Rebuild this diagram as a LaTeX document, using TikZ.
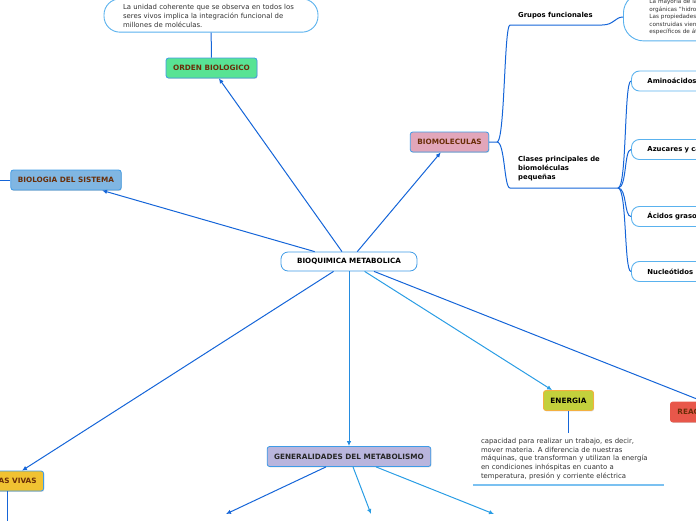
\documentclass[tikz,border=0pt]{standalone}
\usepackage{fontspec}
\setmainfont{DejaVu Sans}
\usetikzlibrary{arrows.meta, positioning, shadows}
\definecolor{lineDark}{HTML}{1565D8}
\definecolor{lineLight}{HTML}{2A9DE4}
\definecolor{boxBlue}{HTML}{3F9BE6}
\definecolor{leafBlue}{HTML}{5AB2EE}
\definecolor{txtBrown}{HTML}{6A2E08}
\definecolor{txtGray}{HTML}{333333}
\definecolor{fillGreen}{HTML}{58E394}
\definecolor{fillSky}{HTML}{80B6E2}
\definecolor{fillPink}{HTML}{E2A6BA}
\definecolor{fillLila}{HTML}{B9B5DD}
\definecolor{fillGold}{HTML}{F0C232}
\definecolor{fillLime}{HTML}{C3D03C}
\definecolor{lineOrange}{HTML}{F4B040}
\definecolor{fillRed}{HTML}{E8574A}
\tikzstyle{arrow} = [line width=1pt, draw=lineDark, -{Latex[length=5pt,width=4.5pt]}]
\tikzstyle{arrow_L} = [line width=1pt, draw=lineLight, -{Latex[length=5pt,width=4.5pt]}]
\tikzstyle{branch} = [line width=1pt, draw=lineDark]
\tikzstyle{topic} = [
rectangle, rounded corners=2.5pt, draw=boxBlue, line width=0.8pt,
minimum height=20pt, inner xsep=7pt, text centered,
font=\fontsize{7.3}{8}\selectfont\bfseries,
drop shadow={shadow xshift=0.6pt, shadow yshift=-0.9pt, opacity=0.3}
]
\tikzstyle{mainbox} = [
rectangle, rounded corners=7pt, draw=boxBlue, line width=0.8pt, fill=white,
minimum height=19pt, minimum width=136pt, text centered,
font=\fontsize{7.2}{8}\selectfont\bfseries
]
\tikzstyle{leaf} = [
rectangle, rounded corners=8pt, draw=leafBlue, line width=0.9pt, fill=white,
minimum height=20pt, text width=110pt, align=left, inner xsep=16pt, anchor=west,
font=\fontsize{6.85}{8}\selectfont\bfseries
]
\tikzstyle{bubble} = [
rectangle, draw=leafBlue, line width=0.9pt, fill=white, align=left,
text=txtGray, font=\fontsize{6.9}{9}\selectfont
]
\tikzstyle{label_B} = [align=left, inner sep=0pt, font=\fontsize{6.85}{9}\selectfont\bfseries]

\begin{document}
\begin{tikzpicture}[x=1pt, y=-1pt]
			\useasboundingbox (0,0) rectangle (696,520);
			\clip (0,0) rectangle (696,520);

			% Nodes principais
			\node (BQ) [mainbox] at (349,261.5) {BIOQUIMICA METABOLICA};
			\node (ORDEN) [topic, fill=fillGreen, text=txtBrown] at (211.5,68) {ORDEN BIOLOGICO};
			\node (BIOSIS) [topic, fill=fillSky, text=txtBrown] at (66,180) {BIOLOGIA DEL SISTEMA};
			\node (BIOMOL) [topic, fill=fillPink, text=txtBrown] at (449.5,142) {BIOMOLECULAS};
			\node (ENERGIA) [topic, fill=fillLime, draw=lineOrange, text=black] at (568.5,400.5) {ENERGIA};
			\node (REAC) [topic, fill=fillRed, draw=fillRed, text=txtBrown, anchor=west] at (670,412) {REACCIONES};
			\node (GENERAL) [topic, fill=fillLila, text=black!85] at (349,456.5) {GENERALIDADES DEL METABOLISMO};
			\node (VIVAS) [topic, fill=fillGold, text=txtBrown, anchor=east] at (44,481) {CELULAS VIVAS};

			% Textos
			\node (ORDEN_txt) [bubble, rounded corners=16pt, text width=176pt, inner xsep=19pt, inner ysep=5pt] at (211,15.5)
				{La unidad coherente que se observa en todos los\\seres vivos implica la integración funcional de\\millones de moléculas.};
			\node (GF_txt) [bubble, rounded corners=20pt, text width=120pt, inner xsep=26pt, inner ysep=6pt, anchor=west,
				font=\fontsize{5.7}{7.5}\selectfont] at (623,17)
				{La mayoría de las biomoléculas\\orgánicas "hidrocarburos" con\\Las propiedades químicas\\construidas vienen de grupos\\específicos de átomos};
			\node (ENERGIA_txt) [align=left, text width=175pt, inner xsep=8pt, inner ysep=5pt, text=txtGray,
				font=\fontsize{6.9}{8.7}\selectfont] at (568.5,459)
				{capacidad para realizar un trabajo, es decir,\\mover materia. A diferencia de nuestras\\máquinas, que transforman y utilizan la energía\\en condiciones inhóspitas en cuanto a\\temperatura, presión y corriente eléctrica};
			\node (GF) [label_B, anchor=west] at (518,16) {Grupos funcionales};
			\node (CLASES) [label_B, anchor=north west] at (518,156.5) {Clases principales de\\biomoléculas\\pequeñas};

			% Nodes finais
			\node (AMINO) [leaf] at (631,81) {Aminoácidos};
			\node (AZUCAR) [leaf] at (631,149.5) {Azucares y carbohidratos};
			\node (GRASOS) [leaf] at (631,216.5) {Ácidos grasos};
			\node (NUCLEO) [leaf] at (631,271.5) {Nucleótidos};

			% Coordenadas
			\coordinate (bm_j) at (497,142);
			\coordinate (gf_a) at (510,25);
			\coordinate (gf_b) at (602,25);
			\coordinate (cl_a) at (510,188);
			\coordinate (cl_b) at (618,188);
			\coordinate (biosis_out) at (-5,180);
			\coordinate (vivas_out) at (7,525);
			\coordinate (gen_1) at (226,514);
			\coordinate (gen_2) at (371,514);
			\coordinate (gen_3) at (494,514);

			% Connections
			\draw [arrow] (BQ) -- (ORDEN);
			\draw [arrow] (BQ) -- (BIOSIS);
			\draw [arrow] (BQ) -- (BIOMOL);
			\draw [arrow_L] (BQ) -- (ENERGIA);
			\draw [arrow] (BQ) -- (REAC.north);
			\draw [arrow_L, draw=lineLight!70!lineDark] (BQ) -- (GENERAL);
			\draw [arrow] (BQ) -- ([xshift=-22pt]VIVAS.north east);
			\draw [arrow] ([xshift=-23pt]GENERAL.south) -- (gen_1);
			\draw [arrow_L] ([xshift=4pt]GENERAL.south) -- (gen_2);
			\draw [arrow_L] ([xshift=27pt]GENERAL.south) -- (gen_3);

			% Ramas
			\draw [branch] (ORDEN_txt) -- (ORDEN);
			\draw [branch] (ENERGIA) -- (ENERGIA_txt);
			\draw [line width=1.4pt, draw=leafBlue!80] (ENERGIA_txt.south west) -- (ENERGIA_txt.south east);
			\draw [branch] (BIOSIS) -- (biosis_out);
			\draw [branch] (VIVAS.south -| vivas_out) -- (vivas_out);
			\draw [branch] (BIOMOL.east) -- (bm_j) .. controls +(8,0) and +(-6,0) .. (gf_a) -- (gf_b)
				.. controls +(12,0) and +(-8,0) .. (GF_txt.west);
			\draw [branch] (bm_j) .. controls +(8,0) and +(-6,0) .. (cl_a) -- (cl_b);
			\foreach \leafname in {AMINO, AZUCAR, GRASOS, NUCLEO}
				\draw [branch] (cl_b) .. controls +(9,0) and +(-7,0) .. (\leafname.west);

		\end{tikzpicture}
\end{document}
